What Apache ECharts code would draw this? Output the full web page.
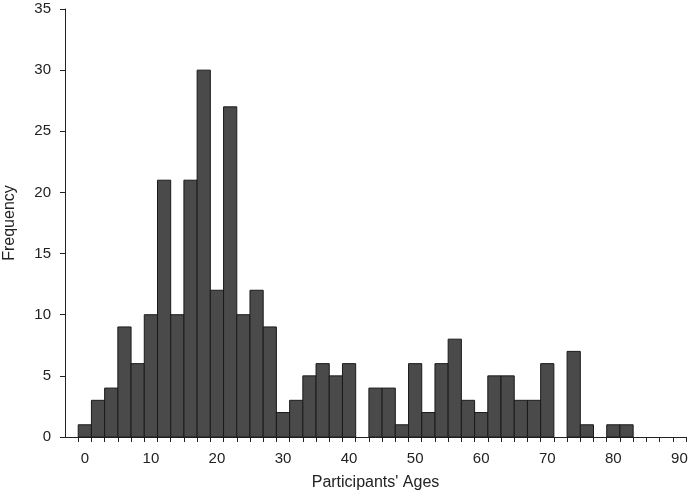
<!DOCTYPE html>
<html>
<head>
<meta charset="utf-8">
<script src="https://cdn.jsdelivr.net/npm/echarts@6/dist/echarts.min.js"></script>
<style>
  html, body { margin: 0; padding: 0; background: #fff; }
  #chart { width: 690px; height: 495px; }
</style>
</head>
<body>
<div id="chart"></div>
<script>
// bin centres (age), each bin 2 years wide
var binCenters = [0, 2, 4, 6, 8, 10, 12, 14, 16, 18, 20, 22, 24, 26, 28, 30, 32, 34, 36, 38,
    40, 42, 44, 46, 48, 50, 52, 54, 56, 58, 60, 62, 64, 66, 68, 70, 72, 74, 76, 78, 80, 82, 84, 86, 88, 90];
var frequency = [1, 3, 4, 9, 6, 10, 21, 10, 21, 30, 12, 27, 10, 12, 9, 2, 3, 5, 6, 5,
    6, 0, 4, 4, 1, 6, 2, 6, 8, 3, 2, 5, 5, 3, 3, 6, 0, 7, 1, 0, 1, 1, 0, 0, 0, 0];
var binWidth = 2;
var xLabels = [0, 10, 20, 30, 40, 50, 60, 70, 80, 90];
var xTicks = [];
for (var t = -1; t <= 91; t += 2) xTicks.push(t);

function init() {
    var chart = echarts.init(document.getElementById('chart'));
    var data = [];
    for (var i = 0; i < binCenters.length; i++) {
        if (frequency[i] > 0) data.push([binCenters[i], frequency[i]]);
    }
    var font = 'Liberation Sans, Arial, Helvetica, sans-serif';
    chart.setOption({
        animation: false,
        backgroundColor: '#fff',
        grid: { left: 65, right: 4, top: 9, bottom: 58, containLabel: false, outerBoundsMode: 'none' },
        xAxis: {
            type: 'value',
            min: -3,
            max: 91,
            name: "Participants' Ages",
            nameLocation: 'middle',
            nameGap: 38,
            nameTextStyle: { fontFamily: font, fontSize: 16, color: '#222' },
            axisLine: { show: true, onZero: false, lineStyle: { color: '#222', width: 1 } },
            axisTick: { show: true, inside: false, length: 5, customValues: xTicks, lineStyle: { color: '#222' } },
            axisLabel: { customValues: xLabels, margin: 14, fontFamily: font, fontSize: 15, color: '#222' },
            splitLine: { show: false }
        },
        yAxis: {
            type: 'value',
            min: 0,
            max: 35,
            interval: 5,
            name: 'Frequency',
            nameLocation: 'middle',
            nameGap: 47,
            nameTextStyle: { fontFamily: font, fontSize: 16, color: '#222' },
            axisLine: { show: true, onZero: false, lineStyle: { color: '#222', width: 1 } },
            axisTick: { show: true, inside: false, length: 5, lineStyle: { color: '#222' } },
            axisLabel: { margin: 14, fontFamily: font, fontSize: 15, color: '#222' },
            splitLine: { show: false }
        },
        series: [{
            type: 'custom',
            data: data,
            renderItem: function (params, api) {
                var x = api.value(0);
                var y = api.value(1);
                var p0 = api.coord([x - binWidth / 2, y]);
                var p1 = api.coord([x + binWidth / 2, 0]);
                return {
                    type: 'rect',
                    shape: { x: p0[0], y: p0[1], width: p1[0] - p0[0], height: p1[1] - p0[1] },
                    style: { fill: '#4a4a4a', stroke: '#1a1a1a', lineWidth: 1 }
                };
            }
        }]
    });
}
document.addEventListener('DOMContentLoaded', init);
</script>
</body>
</html>
